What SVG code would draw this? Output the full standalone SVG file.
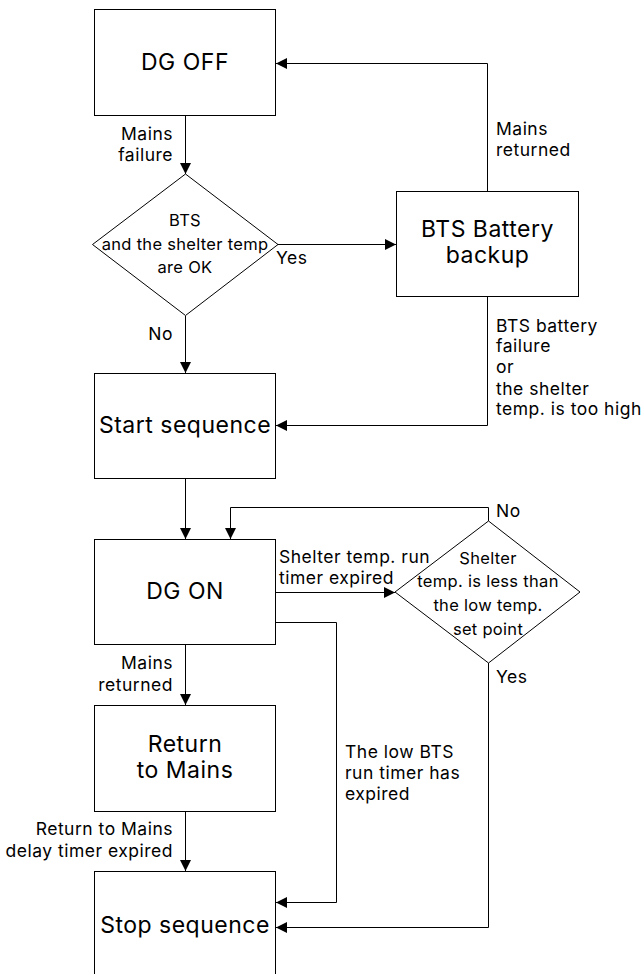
<svg xmlns="http://www.w3.org/2000/svg" width="644" height="974" viewBox="0 0 644 974">
<style>
.box{fill:#fff;stroke:#000;stroke-width:1}
.nt{font-family:Inter,"Noto Sans","Liberation Sans",sans-serif;font-size:23px;letter-spacing:0.5px;fill:#000;text-anchor:middle}
.dt{font-family:Inter,"Noto Sans","Liberation Sans",sans-serif;font-size:16.5px;letter-spacing:0.3px;fill:#000;text-anchor:middle}
.lb{font-family:Inter,"Noto Sans","Liberation Sans",sans-serif;font-size:17.5px;letter-spacing:0.5px;fill:#000}
.r{text-anchor:end}
.ln{fill:none;stroke:#000;stroke-width:1}
</style>
<defs>
<marker id="ah" markerUnits="userSpaceOnUse" markerWidth="11" markerHeight="11" viewBox="0 0 11 11" refX="11" refY="5.5" orient="auto">
<path d="M0,0 L11,5.5 L0,11 z" fill="#000"/>
</marker>
</defs>
<g id="connectors">
<path class="ln" d="M185.5,116 V174" marker-end="url(#ah)"/>
<path class="ln" d="M277,244.5 H396" marker-end="url(#ah)"/>
<path class="ln" d="M185.5,316 V373" marker-end="url(#ah)"/>
<path class="ln" d="M487.5,191 V63.5 H276" marker-end="url(#ah)"/>
<path class="ln" d="M487.5,297 V425.5 H276" marker-end="url(#ah)"/>
<path class="ln" d="M185.5,479 V539" marker-end="url(#ah)"/>
<path class="ln" d="M488.5,521 V507.5 H230.5 V539" marker-end="url(#ah)"/>
<path class="ln" d="M276,592.5 H395" marker-end="url(#ah)"/>
<path class="ln" d="M276,622.5 H336.5 V902.5 H276" marker-end="url(#ah)"/>
<path class="ln" d="M488.5,663 V927.5 H276" marker-end="url(#ah)"/>
<path class="ln" d="M185.5,644 V705" marker-end="url(#ah)"/>
<path class="ln" d="M185.5,811 V871" marker-end="url(#ah)"/>
<text class="lb r" x="173" y="140">Mains</text>
<text class="lb r" x="173" y="161">failure</text>
<text class="lb" x="276" y="264">Yes</text>
<text class="lb r" x="173" y="340">No</text>
<text class="lb" x="496" y="135">Mains</text>
<text class="lb" x="496" y="156">returned</text>
<text class="lb" x="496" y="332">BTS battery</text>
<text class="lb" x="496" y="352">failure</text>
<text class="lb" x="496" y="373">or</text>
<text class="lb" x="496" y="395">the shelter</text>
<text class="lb" x="496" y="415">temp. is too high</text>
<text class="lb" x="279" y="563">Shelter temp. run</text>
<text class="lb" x="279" y="584">timer expired</text>
<text class="lb" x="496" y="517">No</text>
<text class="lb" x="496" y="683">Yes</text>
<text class="lb r" x="173" y="669">Mains</text>
<text class="lb r" x="173" y="691">returned</text>
<text class="lb" x="345" y="758">The low BTS</text>
<text class="lb" x="345" y="779">run timer has</text>
<text class="lb" x="345" y="800">expired</text>
<text class="lb r" x="173" y="835">Return to Mains</text>
<text class="lb r" x="173" y="857">delay timer expired</text>
</g>
<g id="dg-off">
<rect class="box" x="94.5" y="9.5" width="181" height="106"/>
<text class="nt" x="185" y="70">DG OFF</text>
</g>
<g id="check-bts">
<path class="box" d="M185.5,174 L278,244.5 L185.5,315.5 L92.5,244.5 Z"/>
<text class="dt" x="185" y="226">BTS</text>
<text class="dt" x="185" y="250">and the shelter temp</text>
<text class="dt" x="185" y="273">are OK</text>
</g>
<g id="bts-battery">
<rect class="box" x="396.5" y="191.5" width="182" height="105"/>
<text class="nt" x="487.5" y="237">BTS Battery</text>
<text class="nt" x="487.5" y="262.5">backup</text>
</g>
<g id="start-sequence">
<rect class="box" x="94.5" y="373.5" width="181" height="105"/>
<text class="nt" x="185" y="433">Start sequence</text>
</g>
<g id="dg-on">
<rect class="box" x="94.5" y="539.5" width="181" height="105"/>
<text class="nt" x="185" y="599">DG ON</text>
</g>
<g id="check-temp">
<path class="box" d="M488.5,521 L580,592 L488.5,663 L395,592 Z"/>
<text class="dt" x="488" y="564">Shelter</text>
<text class="dt" x="488" y="587">temp. is less than</text>
<text class="dt" x="488" y="611">the low temp.</text>
<text class="dt" x="488" y="635">set point</text>
</g>
<g id="return-mains">
<rect class="box" x="94.5" y="705.5" width="181" height="106"/>
<text class="nt" x="185" y="752">Return</text>
<text class="nt" x="185" y="777.5">to Mains</text>
</g>
<g id="stop-sequence">
<rect class="box" x="94.5" y="871.5" width="181" height="106"/>
<text class="nt" x="185" y="933">Stop sequence</text>
</g>
</svg>
